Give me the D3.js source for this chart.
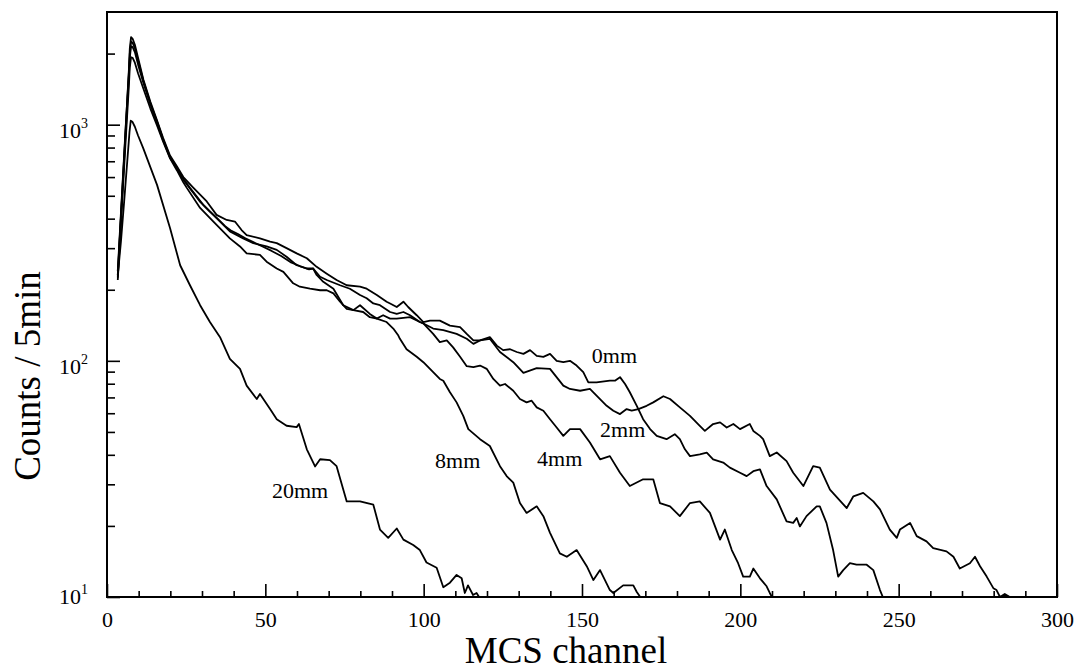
<!DOCTYPE html>
<html><head><meta charset="utf-8">
<script src="https://cdn.jsdelivr.net/npm/d3@7"></script>
<style>
html,body{margin:0;padding:0;background:#fff;}
svg{display:block;}
text{font-family:"Liberation Serif","Times New Roman",serif;fill:#000;}
</style></head>
<body>
<svg id="chart" width="1080" height="671"></svg>
<script>
// ---- data: [MCS channel, counts / 5min] ----
const series0mm = [[3.4,230],[3.9,310],[4.9,545],[5.9,960],[6.9,1700],[7.2,2100],[7.6,2350],[8.1,2310],[8.8,2180],[9.8,1920],[11.5,1550],[13.7,1250],[15.7,1050],[17.7,880],[19.9,740],[22.1,665],[24.1,600],
[27.3,540],[31.5,473],[34.6,415],[37.8,395],[40.4,389],[42.5,358],[44.1,341],[48.3,330],[51.5,320],[53.6,315],[56.7,300],[59.9,285],[63.1,272],[66.2,250],[69.4,234],[72.5,220],[75.7,209],[79.9,206],[82.0,202],[85.2,190],[88.3,178],
[89.4,175],[91.5,169],[93.6,178],[95.1,169],[97.8,156],[99.9,146],[102.0,148],[105.1,148],[108.3,141],[111.5,139],[113.6,130],[115.7,122],[117.8,122],[120.9,126],[123.1,116],[125.1,111],[127.3,112],[129.4,109],[131.5,107],[133.6,111],[135.7,105],[137.8,104],[139.9,107],[142.0,100],[144.1,98.7],[146.2,100],[148.3,95.5],[150.4,89.5],[152.0,81.1],[154.6,81.1],[158.8,82.4],
[160.4,82.4],[162.0,85.3],[163.6,79.8],[165.1,73.6],[167.3,64.5],[169.3,56.6],[171.5,51.4],[173.6,48.1],[176.7,46.6],[179.3,48.9],[180.9,46.6],[182.5,42.2],[184.1,39.5],[187.2,40.2],[189.4,40.9],[191.4,38.3],[194.6,37.1],[196.7,35.3],[199.9,33.6],[202.0,32.5],[204.1,34.1],[206.2,34.7],
[208.3,29.5],[211.5,25.9],[214.6,20.9],[216.7,20.6],[217.8,21.6],[218.8,19.9],[220.9,22.0],[224.1,24.2],[225.1,24.2],[227.2,20.6],[229.3,15.8],[230.9,12.2],[232.5,13.0],[234.6,13.9],[236.7,13.7],[239.9,13.7],[242.0,13.0],[244.1,10.7],[245.0,10]];

const series2mm = [[3.4,240],[3.9,320],[4.9,560],[5.9,980],[6.9,1650],[7.2,2000],[7.6,2250],[8.1,2220],[8.8,2110],[9.8,1870],[11.5,1530],[13.7,1230],[15.7,1040],[17.7,870],[19.9,730],[22.1,655],[24.1,590],
[26.2,540],[30.4,458],[34.6,402],[38.8,353],[43.0,330],[46.2,315],[50.4,305],[53.6,295],[56.7,276],[59.9,254],[63.1,246],[65.1,246],[67.3,227],[69.4,220],[73.6,209],[76.7,202],[79.9,190],[82.0,184],[84.1,175],[86.2,172],[89.4,161],[91.5,158],[93.6,161],[95.7,156],[98.8,146],
[99.9,144],[103.0,137],[106.2,135],[110.4,130],[113.6,124],[115.7,118],[117.8,122],[120.9,124],[124.1,109],[128.3,98.7],[131.5,88.9],[135.7,93.1],[139.9,92.5],[144.1,78.5],[146.2,76.0],[149.4,74.7],[152.5,76.0],[154.6,71.2],[157.8,64.5],
[159.9,61.5],[162.0,59.5],[164.1,62.5],[165.7,61.5],[167.8,62.5],[170.4,64.5],[172.5,66.7],[175.7,70.8],[177.8,68.9],[180.9,63.5],[184.1,58.5],[187.2,53.1],[188.8,50.5],[191.4,54.0],[193.6,54.9],[195.7,52.2],[197.8,54.0],[199.9,51.4],[203.0,54.0],[204.1,50.5],[206.2,48.1],
[207.2,46.6],[209.3,39.5],[211.5,40.9],[214.6,37.6],[216.7,33.6],[219.9,29.5],[223.0,35.8],[225.1,35.3],[228.3,28.5],[233.6,23.8],[235.7,26.7],[238.8,27.6],[242.0,25.4],[244.1,23.5],[247.2,19.3],[249.4,17.8],[250.4,19.3],[253.6,20.6],[255.7,18.1],[258.8,17.2],[260.9,16.1],[265.1,15.6],[267.3,14.8],[269.3,13.2],[272.5,13.9],[274.1,14.8],[275.7,13.5],[277.8,12.2],[279.9,10.9],[280.9,10.7],[282.0,10.0],[283.5,10.3],[285.1,10.0]];

const series4mm = [[3.4,225],[3.9,305],[4.9,530],[5.9,930],[6.9,1600],[7.2,1920],[7.6,2150],[8.1,2130],[8.8,2030],[9.8,1800],[11.5,1500],[13.7,1220],[15.7,1030],[17.7,860],[19.9,725],[22.1,650],[24.1,585],
[26.5,530],[29.5,470],[32.4,430],[34.9,400],[37.3,372],[39.3,355],[41.2,345],[43.7,330],[46.2,318],[49.1,305],[52.0,292],[55.0,278],[57.9,262],[60.9,252],[63.8,244],
[65.1,246],[66.2,231],[68.3,216],[71.5,202],[74.6,172],[77.8,164],[79.9,172],[83.0,158],[85.2,151],[87.2,156],[89.4,151],[91.5,151],[95.7,153],[98.8,146],
[99.9,144],[103.0,130],[105.1,120],[107.3,122],[109.3,114],[111.5,104],[113.6,94.9],[115.7,94.0],[117.8,95.5],[119.9,92.5],[122.0,83.8],[124.1,78.5],[125.7,79.8],[128.3,74.7],[130.4,68.9],[132.5,66.7],[134.1,67.8],[135.7,63.5],[137.8,61.5],[139.9,56.6],[142.0,52.2],
[144.1,48.1],[146.2,51.4],[149.4,51.4],[152.5,45.1],[155.7,38.3],[158.8,39.5],[162.0,33.6],[165.1,29.5],[169.3,31.5],[172.5,31.5],[174.6,25.0],[177.8,24.2],[180.9,22.0],[184.1,25.0],[187.2,25.4],[190.4,22.7],[193.6,17.5],
[195.1,19.3],[197.3,15.8],[199.3,13.9],[200.9,12.2],[203.0,12.2],[204.1,13.2],[206.2,12.0],[208.3,11.1],[209.3,10.4],[210.0,10.0]];

const series8mm = [[3.4,220],[3.9,290],[4.9,500],[5.9,860],[6.9,1450],[7.2,1750],[7.6,1930],[8.1,1920],[8.8,1830],[9.8,1650],[11.5,1420],[13.7,1170],[15.7,1000],[17.7,850],[19.9,720],[22.1,640],[24.1,570],
[25.2,540],[29.4,444],[33.6,389],[38.8,330],[42.0,305],[44.1,285],[48.3,281],[50.4,263],[53.6,246],[55.7,238],[58.8,213],[60.9,206],[64.1,202],[67.3,199],[69.4,199],[71.5,193],[73.6,178],[75.7,166],[77.8,164],[80.9,161],[83.0,153],[85.2,151],[88.3,146],[90.4,137],[92.0,128],
[92.5,124],[94.6,112],[97.8,104],[99.9,98.7],[103.0,89.5],[105.1,83.8],[106.2,82.4],[108.3,73.6],[110.4,66.7],[112.5,58.5],[114.1,51.4],
[117.8,46.6],[120.9,43.6],[124.1,35.8],[126.2,32.5],[128.3,30.5],[130.4,25.0],[132.5,22.7],[135.7,24.2],[137.8,22.0],[139.9,18.7],[143.0,15.3],[145.2,14.8],[148.3,15.8],[151.5,13.5],[153.6,11.8],[155.7,13.0],[158.8,10.7],[159.9,10.4],[163.0,11.2],[166.2,11.2],[167.3,10.5],[168.4,10]];

const series20mm = [[3.4,230],[4.4,320],[5.4,470],[6.4,700],[7.1,930],[7.5,1040],[8.0,1030],[8.8,980],[9.8,900],[11.4,798],[15.8,556],[19.9,365],[23.1,254],[26.2,209],[29.4,172],[32.5,146],[35.7,126],[38.8,102],[42.0,92.5],[44.1,78.5],[47.3,68.9],[48.3,72.4],[51.5,62.5],[53.6,56.6],[56.7,53.1],[59.9,52.4],[60.6,54.0],[63.1,42.2],[65.7,35.7],[67.3,38.3],[70.4,38.0],[72.5,35.8],[75.7,25.4],[79.9,25.4],[84.1,24.6],[86.2,19.3],[88.8,17.8],[91.5,19.5],[93.6,17.5],[96.7,16.6],[98.8,15.8],[100.9,14.0],[104.1,13.3],[106.2,11.0],[108.3,11.5],[110.4,12.4],[112.0,12.0],[113.0,10.4],[114.0,11.2],[115.6,10.2],[116.7,10.4],[117.5,10]];

const seriesNames = ["0mm","2mm","4mm","8mm","20mm"];
const seriesList = [series0mm, series2mm, series4mm, series8mm, series20mm];
// curve label anchor points (text start, baseline) in data units [channel, counts]
const labelPos = [[153.1,98],[155.7,47.5],[135.8,35.9],[103.6,35.2],[52.1,26.2]];

const xMajorTicks = [0,50,100,150,200,250,300];
const xMinorTicks = d3.range(0,301,10);
const yMajorTicks = [10,100,1000];
const yMinorTicks = [20,30,40,50,60,70,80,90,200,300,400,500,600,700,800,900,2000];
const yTickExponents = ["1","2","3"];
const xTitle = "MCS channel";
const yTitle = "Counts / 5min";

// ---- drawing ----
const svg = d3.select("#chart");
svg.append("rect").attr("width",1080).attr("height",671).attr("fill","#fff");

const x = d3.scaleLinear().domain([0,300]).range([107,1057]);
const y = d3.scaleLog().domain([10,3000]).range([597,12]);
const L = x.range()[0], R = x.range()[1], B = y.range()[0], T = y.range()[1];

svg.append("clipPath").attr("id","clip").append("rect")
  .attr("x",L).attr("y",T).attr("width",R-L).attr("height",B-T);

// ticks point inward
svg.append("g").attr("transform",`translate(0,${B})`)
  .call(d3.axisBottom(x).tickValues(xMinorTicks.filter(v=>v%50!==0)).tickSize(-6).tickFormat(""))
  .call(g=>g.select(".domain").remove())
  .call(g=>g.selectAll("line").attr("stroke","#000").attr("stroke-width",1.6));
svg.append("g").attr("transform",`translate(0,${B})`)
  .call(d3.axisBottom(x).tickValues(xMajorTicks).tickSize(-13).tickPadding(0).tickFormat(d3.format("d")))
  .call(g=>g.select(".domain").remove())
  .call(g=>g.selectAll("line").attr("stroke","#000").attr("stroke-width",1.6))
  .call(g=>g.selectAll("text").attr("y",30).attr("dy",0).attr("font-size",22)
      .attr("font-family","'Liberation Serif',serif").attr("fill","#000"));

svg.append("g").attr("transform",`translate(${L},0)`)
  .call(d3.axisLeft(y).tickValues(yMinorTicks).tickSize(-8).tickFormat(""))
  .call(g=>g.select(".domain").remove())
  .call(g=>g.selectAll("line").attr("stroke","#000").attr("stroke-width",1.6));
svg.append("g").attr("transform",`translate(${L},0)`)
  .call(d3.axisLeft(y).tickValues(yMajorTicks).tickSize(-13).tickFormat(""))
  .call(g=>g.select(".domain").remove())
  .call(g=>g.selectAll("line").attr("stroke","#000").attr("stroke-width",1.6));

// y tick labels 10^n
yMajorTicks.forEach((v,i)=>{
  const t = svg.append("text").attr("x",L-19).attr("y",Math.min(y(v)+13, B+7))
    .attr("text-anchor","end").attr("font-size",22);
  t.append("tspan").text("10");
  t.append("tspan").attr("font-size",14).attr("dy",-10).text(yTickExponents[i]);
});

// frame
svg.append("rect").attr("x",L).attr("y",T).attr("width",R-L).attr("height",B-T)
  .attr("fill","none").attr("stroke","#000").attr("stroke-width",2);

// curves
const line = d3.line().x(d=>x(d[0])).y(d=>y(d[1]));
const gc = svg.append("g").attr("clip-path","url(#clip)");
seriesList.forEach(s=>{
  gc.append("path").datum(s).attr("d",line)
    .attr("fill","none").attr("stroke","#000").attr("stroke-width",1.8)
    .attr("stroke-linejoin","round");
});

// curve labels
seriesNames.forEach((n,i)=>{
  svg.append("text").attr("x",x(labelPos[i][0])).attr("y",y(labelPos[i][1]))
    .attr("font-size",22).text(n);
});

// axis titles
svg.append("text").attr("x",566).attr("y",663).attr("text-anchor","middle")
  .attr("font-size",37).text(xTitle);
svg.append("text").attr("transform",`translate(40,376) rotate(-90)`)
  .attr("text-anchor","middle").attr("font-size",37).text(yTitle);
</script>
</body></html>
